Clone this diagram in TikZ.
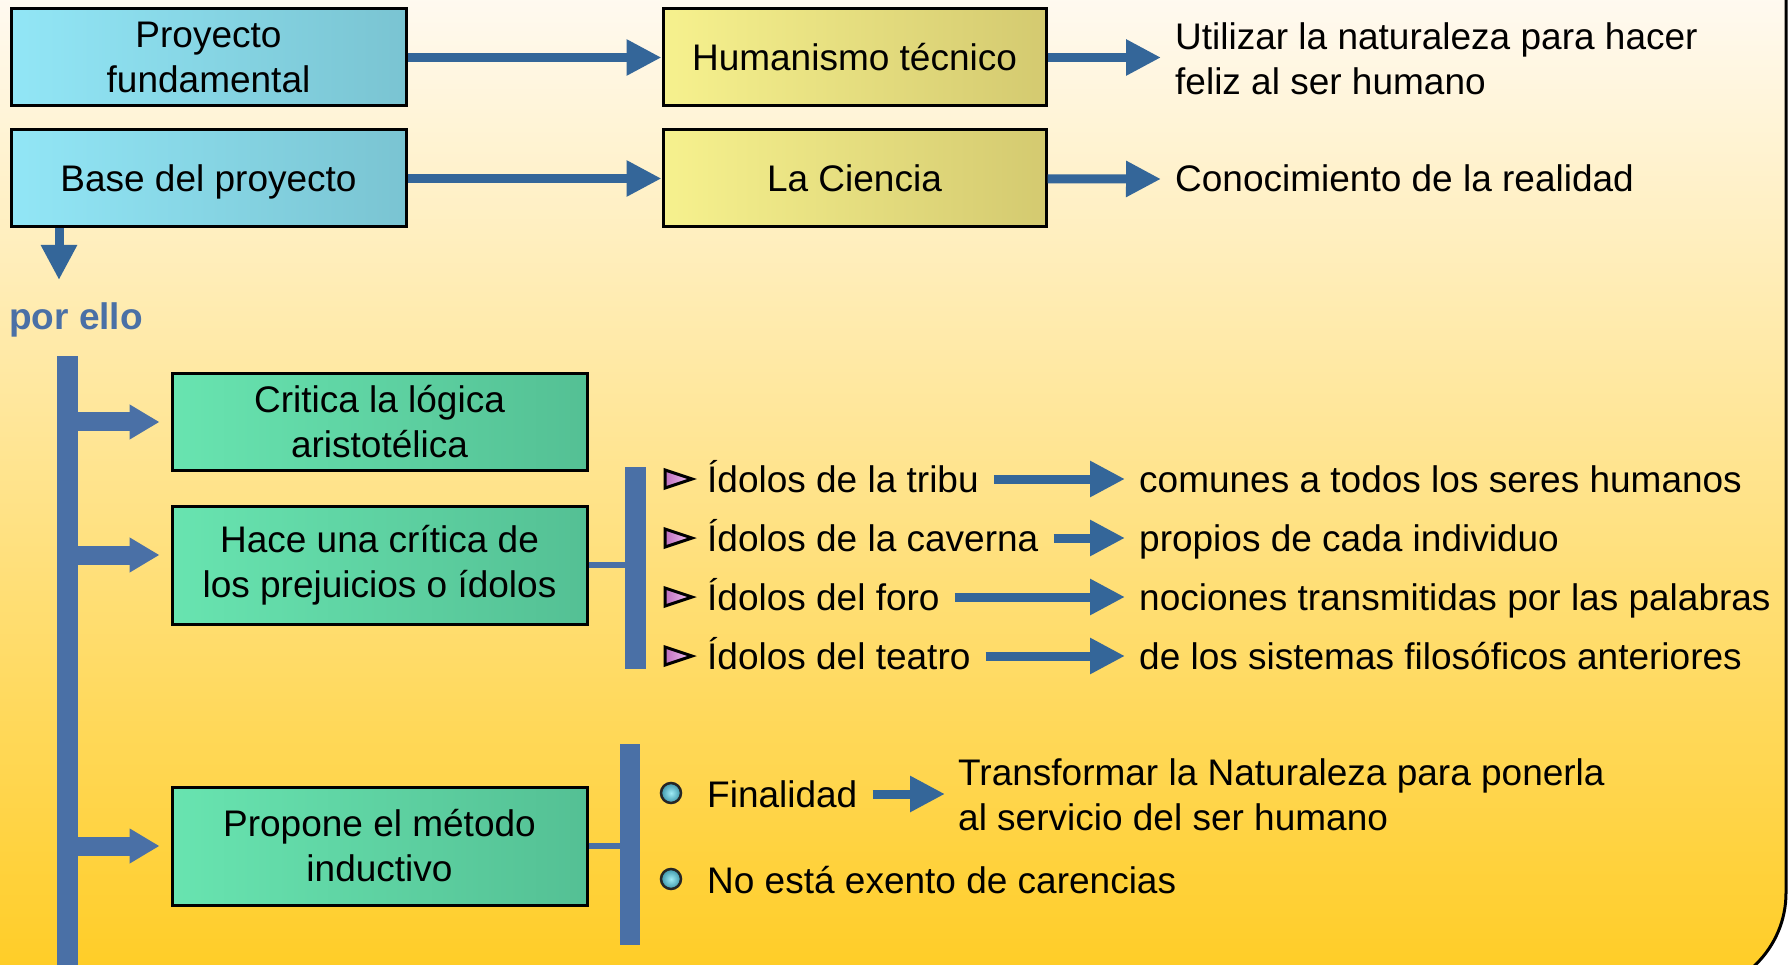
\documentclass[tikz,border=0pt]{standalone}
\usepackage{fontspec}
\setmainfont{Liberation Sans}
\usepackage{tikz}
\usetikzlibrary{arrows.meta}
\usetikzlibrary{positioning}
\definecolor{arrowblue}{RGB}{52,102,153}
\definecolor{barblue}{RGB}{74,112,166}
\definecolor{cyanL}{RGB}{146,230,246}
\definecolor{cyanR}{RGB}{122,196,210}
\definecolor{yelL}{RGB}{246,241,142}
\definecolor{yelR}{RGB}{212,202,112}
\definecolor{greenL}{RGB}{104,228,176}
\definecolor{greenR}{RGB}{84,192,148}
\definecolor{bgTop}{RGB}{255,250,242}
\definecolor{bgMid}{RGB}{255,229,168}
\definecolor{bgBot}{RGB}{255,204,34}
\definecolor{triL}{RGB}{190,110,190}
\definecolor{triR}{RGB}{245,200,245}
\definecolor{dotL}{RGB}{160,235,245}
\definecolor{dotR}{RGB}{60,150,170}

\begin{document}
\begin{tikzpicture}[x=1pt,y=-1pt,
  every node/.style={font=\fontsize{37}{45}\selectfont},
  box/.style={draw=black,line width=3pt,align=center,inner sep=0pt,minimum height=97pt},
  cyanbox/.style={box,minimum width=395pt,left color=cyanL,right color=cyanR},
  yelbox/.style={box,minimum width=383pt,left color=yelL,right color=yelR},
  greenbox/.style={box,minimum width=415pt,left color=greenL,right color=greenR},
  txt/.style={anchor=west,inner sep=0pt,align=left},
  oneline/.style={text height=26pt,text depth=0pt},
  bar/.style={fill=barblue,inner sep=0pt,minimum width=21pt},
  arr/.style={draw=arrowblue,line width=9pt,-{Triangle[length=35pt,width=34pt]}},
  branch/.style={draw=barblue,line width=19pt,-{Triangle[length=30pt,width=33pt]}},
  link/.style={draw=barblue,line width=6pt},
  tri/.style={draw=black,line width=3pt,line join=miter,left color=triL,right color=triR},
  dot/.style={circle,draw=black!85,line width=2.5pt,inner sep=0pt,minimum size=20pt,inner color=dotL,outer color=dotR}]
  \path[use as bounding box,clip] (0,0) rectangle (1789,965);
  \fill[white] (0,0) rectangle (1789,965);
  \path[draw=black,line width=3pt,top color=bgTop,middle color=bgMid,bottom color=bgBot]
    (-10,-10) -- (1786,-10) -- (1786,893) .. controls (1786,948) and (1741,993) .. (1686,993) -- (-10,993) -- cycle;

  \node[cyanbox] (pf) at (208.5,57.5) {Proyecto\\fundamental};
  \node[cyanbox,oneline] (bp) at (208.5,178.5) {Base del proyecto};
  \node[yelbox,oneline] (ht) at (854.5,57.5) {Humanismo técnico};
  \node[yelbox,oneline] (lc) at (854.5,178.5) {La Ciencia};
  \node[txt] (util) at (1175,59) {Utilizar la naturaleza para hacer\\feliz al ser humano};
  \node[txt,oneline] (real) at (1175,179) {Conocimiento de la realidad};
  \node[txt,oneline,text=barblue,font={\fontsize{37}{45}\selectfont\bfseries}] (ello) at (9,317) {por ello};
  \coordinate (dn) at (59,280);

  \node[bar,minimum height=640pt,anchor=north] (spine) at (67.5,356) {};
  \node[greenbox,minimum height=96pt] (crit) at (379.5,422) {Critica la lógica\\aristotélica};
  \node[greenbox,minimum height=118pt] (hace) at (379.5,565) {Hace una crítica de\\los prejuicios o ídolos};
  \node[greenbox,minimum height=118pt] (prop) at (379.5,846) {Propone el método\\inductivo};
  \node[bar,minimum height=202pt] (idbar) at (635.5,568) {};
  \node[bar,minimum height=201pt,minimum width=20pt] (fbar) at (630,844.5) {};

  \foreach \n/\y/\a/\b in {1/479/de la tribu/comunes a todos los seres humanos,
                           2/538/de la caverna/propios de cada individuo,
                           3/597/del foro/nociones transmitidas por las palabras,
                           4/656/del teatro/de los sistemas filosóficos anteriores} {
    \draw[tri] (665,\y-9) -- (692,\y) -- (665,\y+9) -- cycle;
    \node[txt,oneline] (ido\n) at (707,\y) {Ídolos \a};
    \node[txt,oneline] (res\n) at (1139,\y) {\b};
    \draw[arr] ([xshift=15pt]ido\n.east) -- ([xshift=-14pt]res\n.west);
  }

  \node[dot] (d1) at (671,793) {};
  \node[dot] (d2) at (671,879) {};
  \node[txt,oneline] (fin) at (707,794) {Finalidad};
  \node[txt] (trans) at (958,795) {Transformar la Naturaleza para ponerla\\al servicio del ser humano};
  \node[txt,oneline] (exento) at (707,880) {No está exento de carencias};

  \draw[arr] (pf) -- (ht);
  \draw[arr] (bp) -- (lc);
  \draw[arr] (ht.east) -- ([xshift=-14pt]ht.east -| util.west);
  \draw[arr] (lc) -- ([xshift=-14pt]real.west);
  \draw[arr] (bp.south -| dn) -- (dn);
  \draw[branch] (spine.east |- crit) -- ([xshift=-11pt]crit.west);
  \draw[branch] ([yshift=10pt]spine.east |- hace) -- ([xshift=-11pt,yshift=10pt]hace.west);
  \draw[branch] (spine.east |- prop) -- ([xshift=-11pt]prop.west);
  \draw[link] (hace.east) -- (idbar.west |- hace.east);
  \draw[link] (prop.east) -- (fbar.west |- prop.east);
  \draw[arr] ([xshift=15pt]fin.east) -- ([xshift=-13pt]trans.west |- fin.east);
\end{tikzpicture}
\end{document}
